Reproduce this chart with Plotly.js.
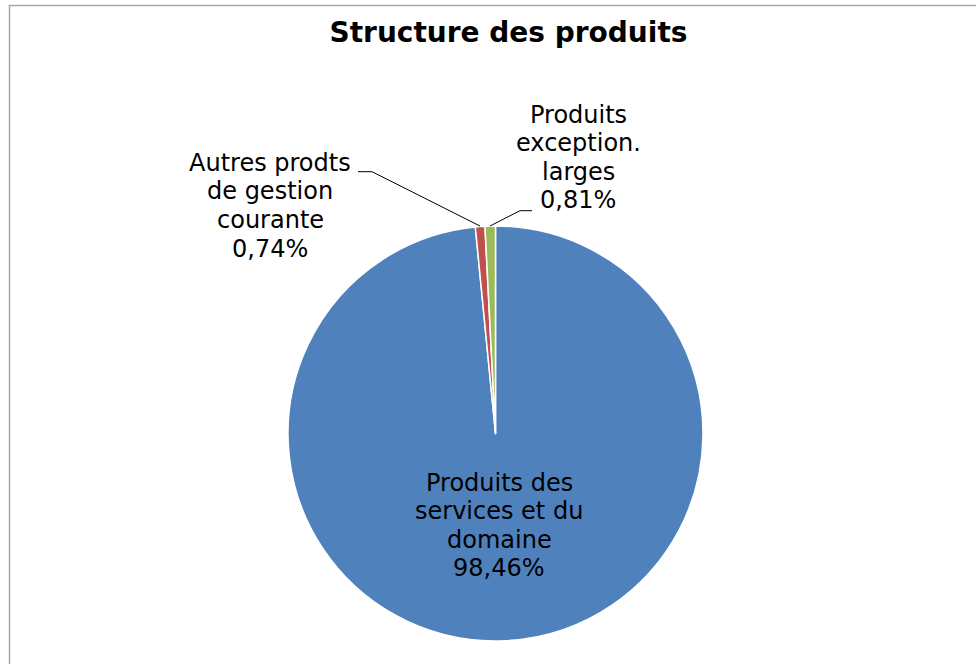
<!DOCTYPE html>
<html>
<head>
<meta charset="utf-8">
<script src="https://cdn.plot.ly/plotly-3.0.1.min.js"></script>
<style>html,body{margin:0;padding:0;background:#fff;}#chart{width:976px;height:664px;}</style>
</head>
<body>
<div id="chart"></div>
<script>
// ---- data ----
const categories = ['Produits des services et du domaine', 'Autres prodts de gestion courante', 'Produits exception. larges'];
const values = [98.46, 0.74, 0.81];
const labelLines = [['Produits des', 'services et du', 'domaine'], ['Autres prodts', 'de gestion', 'courante'], ['Produits', 'exception.', 'larges']];
const colors = ['#4F81BD', '#C0504D', '#9BBB59'];
const titleText = 'Structure des produits';

// ---- layout helpers (pixel -> paper) ----
const W = 976, H = 664;
const px = x => x / W;
const py = y => 1 - y / H;
const fontFam = 'Verdana, "DejaVu Sans", sans-serif';
const fmtPct = v => v.toFixed(2).replace('.', ',') + '%';

// label block placement: [centerX, first baseline]
const labelPos = [[499, 491], [270, 171.5], [578, 123]];
const lineStep = 28.5;
const annotations = [];
categories.forEach((c, i) => {
  const lines = labelLines[i].concat([fmtPct(values[i])]);
  lines.forEach((t, k) => {
    const base = labelPos[i][1] + k * lineStep;
    annotations.push({
      xref: 'paper', yref: 'paper', x: px(labelPos[i][0]), y: py(base - 8.5),
      text: t, showarrow: false, xanchor: 'center', yanchor: 'middle',
      font: {family: fontFam, size: 24, color: '#000'}
    });
  });
});

const path = pts => 'M ' + pts.map(p => px(p[0]) + ',' + py(p[1])).join(' L ');
const shapes = [
  {type: 'path', xref: 'paper', yref: 'paper', path: path([[358, 171.7], [372, 171.7], [480, 226]]), line: {color: '#000', width: 1}},
  {type: 'path', xref: 'paper', yref: 'paper', path: path([[490, 226], [520, 210.7], [532, 210.7]]), line: {color: '#000', width: 1}},
  {type: 'rect', xref: 'paper', yref: 'paper', x0: px(9.5), x1: 1.05, y0: -0.05, y1: py(5.5), line: {color: '#A6A6A6', width: 1.5}, fillcolor: 'rgba(0,0,0,0)', layer: 'below'}
];

const trace = {
  type: 'pie',
  labels: categories,
  values: values,
  sort: false,
  direction: 'clockwise',
  rotation: 0,
  textinfo: 'none',
  hoverinfo: 'label+percent',
  marker: {colors: colors, line: {color: '#FFFFFF', width: 1.5}},
  domain: {x: [px(288), px(703)], y: [py(641), py(226)]},
  showlegend: false
};

const layout = {
  width: W, height: H,
  margin: {l: 0, r: 0, t: 0, b: 0},
  paper_bgcolor: '#FFFFFF',
  title: {text: '<b>' + titleText + '</b>', font: {family: fontFam, size: 28, color: '#000'}, x: px(508.5), xanchor: 'center', y: py(32), yanchor: 'middle'},
  annotations: annotations,
  shapes: shapes,
  showlegend: false
};

Plotly.newPlot('chart', [trace], layout, {displayModeBar: false, staticPlot: true});
</script>
</body>
</html>
